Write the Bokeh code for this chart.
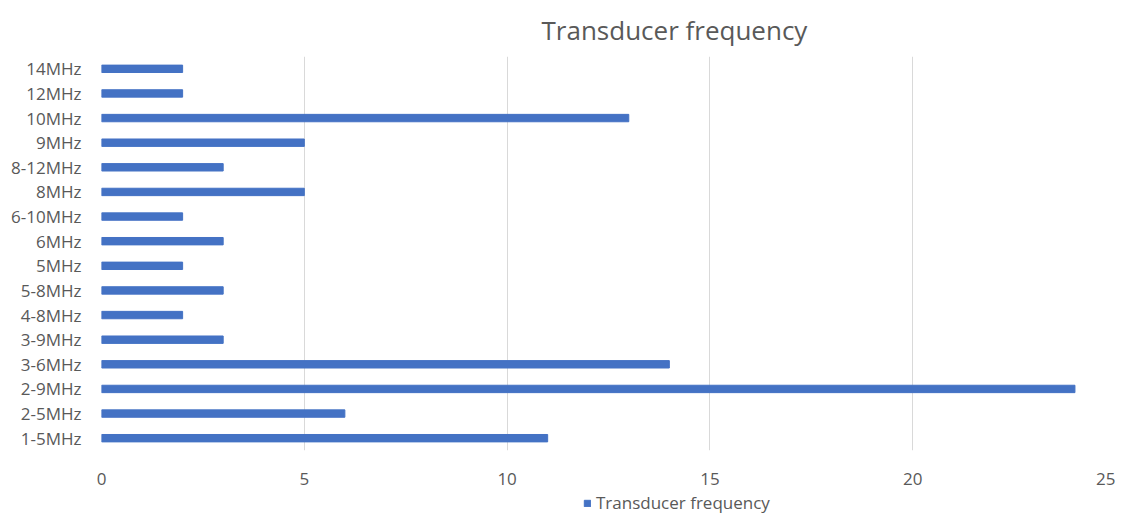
from bokeh.plotting import figure
from bokeh.layouts import column
from bokeh.models import ColumnDataSource, Legend, FixedTicker
from bokeh.embed import file_html
from bokeh.resources import INLINE

categories = ["1-5MHz", "2-5MHz", "2-9MHz", "3-6MHz", "3-9MHz", "4-8MHz", "5-8MHz", "5MHz",
              "6MHz", "6-10MHz", "8MHz", "8-12MHz", "9MHz", "10MHz", "12MHz", "14MHz"]
counts = [11, 6, 24, 14, 3, 2, 3, 2, 3, 2, 5, 3, 5, 13, 2, 2]
x_ticks = [0, 5, 10, 15, 20, 25]
series_name = "Transducer frequency"

src = ColumnDataSource(dict(cat=categories, val=counts))

FONT = "Open Sans"
GREY = "#595959"
BLUE = "#4472C4"

p = figure(width=1115, height=490, y_range=categories, x_range=(0, 25),
           output_backend="svg", toolbar_location=None,
           min_border_left=101, min_border_right=0, min_border_top=55, min_border_bottom=40)

r = p.hbar(y="cat", right="val", left=0, height=0.3, source=src,
           fill_color=BLUE, line_color=BLUE)

p.title.text = series_name
p.title.text_font = FONT
p.title.text_font_size = "26px"
p.title.text_font_style = "normal"
p.title.text_color = GREY
p.title.align = "left"
p.title.offset = 440
p.title.standoff = 18

p.outline_line_color = None
p.ygrid.grid_line_color = None
p.xgrid.grid_line_color = "#D9D9D9"
p.xgrid.grid_line_width = 1
p.xaxis.ticker = FixedTicker(ticks=x_ticks)

for ax in (p.xaxis[0], p.yaxis[0]):
    ax.axis_line_color = None
    ax.major_tick_line_color = None
    ax.minor_tick_line_color = None
    ax.major_label_text_font = FONT
    ax.major_label_text_font_size = "17px"
    ax.major_label_text_color = GREY
p.yaxis.major_label_standoff = 14
p.xaxis.major_label_standoff = 16

# legend strip below the chart (its series renderer is kept hidden; only the legend shows)
q = figure(width=1115, height=24, x_range=(0, 1), y_range=(0, 1),
           x_axis_type=None, y_axis_type=None, output_backend="svg",
           toolbar_location=None, min_border=0)
q.outline_line_color = None
q.grid.visible = False
proxy = q.hbar(y="val", right="val", left=0, height=0.3, source=src,
               fill_color=BLUE, line_color=BLUE, visible=False)

legend = Legend(items=[(series_name, [proxy])], location=(482, 0),
                orientation="horizontal", border_line_color=None,
                background_fill_alpha=0, label_text_font=FONT,
                label_text_font_size="17px", label_text_color=GREY,
                glyph_width=8, glyph_height=8, padding=2, margin=0, label_standoff=5)
q.add_layout(legend)

layout = column(p, q, spacing=0)
open("out.html", "w").write(file_html(layout, INLINE))
